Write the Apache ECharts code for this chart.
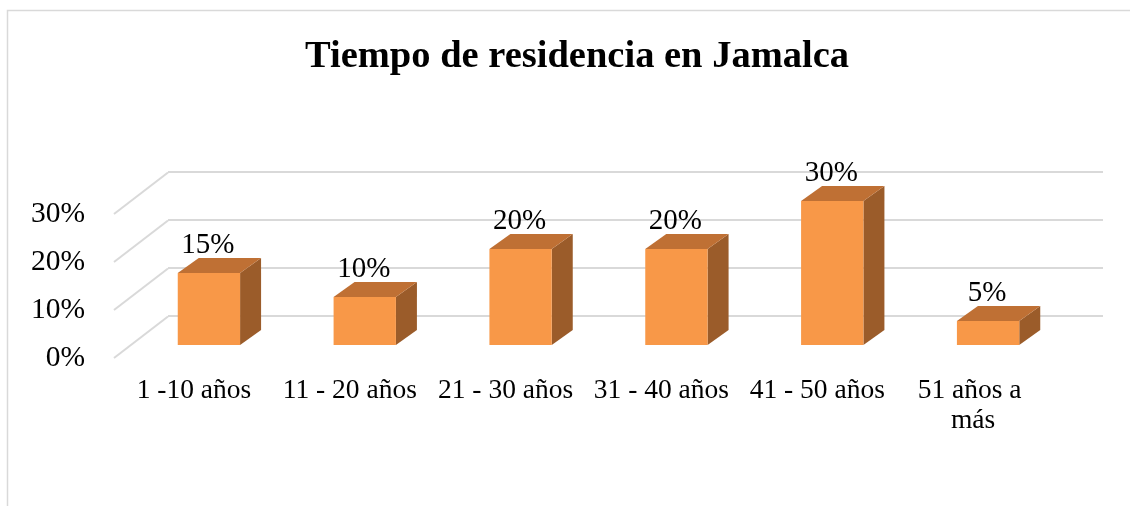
<!DOCTYPE html>
<html>
<head>
<meta charset="utf-8">
<title>Tiempo de residencia en Jamalca</title>
<script src="https://cdn.jsdelivr.net/npm/echarts@6/dist/echarts.min.js"></script>
<style>
  html, body { margin: 0; padding: 0; background: #fff; }
  #chart { width: 1130px; height: 506px; }
</style>
</head>
<body>
<div id="chart"></div>
<script>
  // data
  const categories = ['1 -10 años', '11 - 20 años', '21 - 30 años', '31 - 40 años', '41 - 50 años', '51 años a más']
  const values = [15, 10, 20, 20, 30, 5]
  const yTicks = [0, 10, 20, 30]

  const FONT = 'Liberation Serif, Times New Roman, serif'
  const FLOOR_DEPTH = [54, -41.5] // front edge -> back wall
  const BAR_DEPTH = [21, -15]
  const COLORS = { front: '#F89848', top: '#BF7034', side: '#9B5C2A', grid: '#D9D9D9' }

  const chart = echarts.init(document.getElementById('chart'))

  chart.setOption({
    backgroundColor: '#fff',
    animation: false,
    title: {
      text: 'Tiempo de residencia en Jamalca',
      left: 572,
      textAlign: 'center',
      top: 33,
      textStyle: { fontFamily: FONT, fontSize: 38.5, fontWeight: 'bold', color: '#000' }
    },
    graphic: [{
      type: 'rect',
      silent: true,
      shape: { x: 7.5, y: 10.5, width: 1300, height: 700 },
      style: { fill: 'none', stroke: COLORS.grid, lineWidth: 1.5 }
    }],
    grid: [
      // back wall
      { left: 168, right: 27, top: 172, bottom: 190 },
      // front edge of the floor (y labels)
      { left: 114, right: 27, top: 214, bottom: 148 },
      // bar front faces
      { left: 131, right: 64, top: 201, bottom: 161 }
    ],
    xAxis: [
      { gridIndex: 0, type: 'value', min: 0, max: 1, show: false },
      { gridIndex: 1, type: 'value', min: 0, max: 1, show: false },
      {
        gridIndex: 2,
        type: 'category',
        data: categories,
        axisLine: { show: false },
        axisTick: { show: false },
        axisLabel: {
          margin: 31,
          padding: [0, 30, 0, 0],
          width: 150,
          overflow: 'break',
          lineHeight: 30,
          interval: 0,
          fontFamily: FONT,
          fontSize: 27.5,
          color: '#000'
        }
      }
    ],
    yAxis: [
      {
        gridIndex: 0,
        type: 'value',
        min: 0,
        max: 30,
        interval: 10,
        axisLine: { show: false },
        axisTick: { show: false },
        axisLabel: { show: false },
        splitLine: { lineStyle: { color: COLORS.grid, width: 2 } }
      },
      {
        gridIndex: 1,
        type: 'value',
        min: 0,
        max: 30,
        interval: 10,
        axisLine: { show: false },
        axisTick: { show: false },
        splitLine: { show: false },
        axisLabel: {
          margin: 29,
          formatter: '{value}%',
          fontFamily: FONT,
          fontSize: 29.5,
          color: '#000'
        }
      },
      { gridIndex: 2, type: 'value', min: 0, max: 30, show: false }
    ],
    series: [
      {
        // slanted floor lines joining the labels to the back wall
        type: 'custom',
        xAxisIndex: 1,
        yAxisIndex: 1,
        silent: true,
        data: yTicks.map(v => [0, v]),
        renderItem(params, api) {
          const p = api.coord([0, api.value(1)])
          return {
            type: 'line',
            shape: { x1: p[0], y1: p[1], x2: p[0] + FLOOR_DEPTH[0], y2: p[1] + FLOOR_DEPTH[1] },
            style: { stroke: COLORS.grid, lineWidth: 2 }
          }
        }
      },
      {
        type: 'custom',
        xAxisIndex: 2,
        yAxisIndex: 2,
        data: values.map((v, i) => [i, v]),
        renderItem(params, api) {
          const i = api.value(0)
          const v = api.value(1)
          const base = api.coord([i, 0])
          const top = api.coord([i, v])
          const w = api.size([1, 0])[0] * 0.4
          const x0 = base[0] - w / 2
          const x1 = base[0] + w / 2
          const dx = BAR_DEPTH[0]
          const dy = BAR_DEPTH[1]
          return {
            type: 'group',
            children: [
              {
                type: 'polygon',
                shape: { points: [[x1, top[1]], [x1 + dx, top[1] + dy], [x1 + dx, base[1] + dy], [x1, base[1]]] },
                style: { fill: COLORS.side }
              },
              {
                type: 'polygon',
                shape: { points: [[x0, top[1]], [x0 + dx, top[1] + dy], [x1 + dx, top[1] + dy], [x1, top[1]]] },
                style: { fill: COLORS.top }
              },
              {
                type: 'rect',
                shape: { x: x0, y: top[1], width: w, height: base[1] - top[1] },
                style: { fill: COLORS.front }
              },
              {
                type: 'text',
                style: {
                  x: base[0] - 1,
                  y: top[1] - 28,
                  text: v + '%',
                  align: 'center',
                  verticalAlign: 'middle',
                  font: '29px ' + FONT,
                  fill: '#000'
                }
              }
            ]
          }
        }
      }
    ]
  })
</script>
</body>
</html>
